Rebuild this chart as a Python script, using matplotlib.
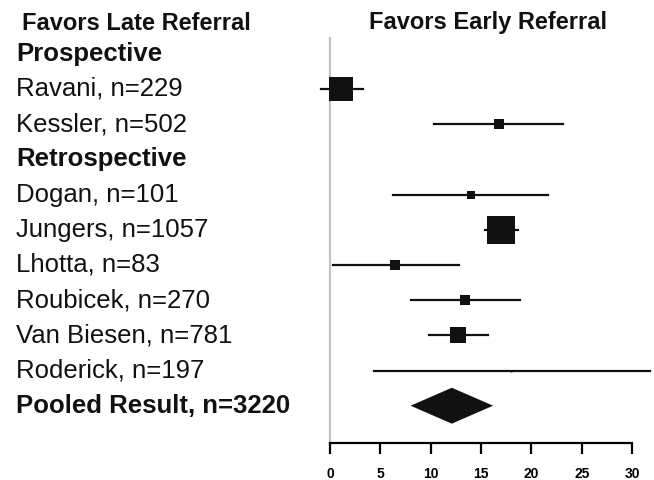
import numpy as np
import matplotlib
matplotlib.use("Agg")
import matplotlib.pyplot as plt
from matplotlib.transforms import blended_transform_factory

# row labels, top to bottom
labels = ["Prospective", "Ravani, n=229", "Kessler, n=502", "Retrospective",
          "Dogan, n=101", "Jungers, n=1057", "Lhotta, n=83", "Roubicek, n=270",
          "Van Biesen, n=781", "Roderick, n=197", "Pooled Result, n=3220"]
bold_rows = [0, 3, 10]

# studies (row index, estimate, lower CI, upper CI, weight %)
study_rows = [1, 2, 4, 5, 6, 7, 8, 9]
estimates = [1.1, 16.8, 14.0, 17.0, 6.5, 13.4, 12.7, 18.0]
ci_low = [-0.9, 10.3, 6.3, 15.4, 0.3, 8.0, 9.8, 4.4]
ci_high = [3.3, 23.1, 21.7, 18.7, 12.8, 18.9, 15.7, 31.8]
weights = [29.5, 4.5, 2.7, 40.6, 4.5, 4.5, 13.4, 0.2]

pooled_row = 10
pooled_est = 12.1
pooled_low = 8.0
pooled_high = 16.2

xticks = [0, 5, 10, 15, 20, 25, 30]

plt.rcParams["font.family"] = ["Liberation Sans", "DejaVu Sans"]

fig = plt.figure(figsize=(6.54, 4.80), dpi=100)
ax = fig.add_axes([300 / 654, 37 / 480, 354 / 654, 406 / 480])
ax.set_xlim(-2.98, 32.18)
ax.set_ylim(11.06, -0.477)

ax.axvline(0, color="#c4c4c4", lw=1.6, zorder=1)

for r, est, lo, hi, w in zip(study_rows, estimates, ci_low, ci_high, weights):
    ax.plot([lo, hi], [r, r], color="#111111", lw=1.6, clip_on=False, zorder=2)
    side = 4.3 * np.sqrt(w) * 0.72
    ax.plot(est, r, marker="s", ms=side, color="#111111", mec="#111111",
            mew=0, zorder=3, clip_on=False)

half_h = 0.51
ax.fill([pooled_low, pooled_est, pooled_high, pooled_est],
        [pooled_row, pooled_row - half_h, pooled_row, pooled_row + half_h],
        color="#111111", lw=0, zorder=3)

for s in ["top", "right", "left"]:
    ax.spines[s].set_visible(False)
ax.spines["bottom"].set_bounds(0, 30)
ax.spines["bottom"].set_linewidth(1.6)
ax.set_xticks(xticks)
ax.set_xticklabels([str(t) for t in xticks], fontsize=10, fontweight="bold")
ax.tick_params(axis="x", direction="out", length=8, width=1.6, pad=9)
ax.set_yticks([])

trans = blended_transform_factory(fig.transFigure, ax.transData)
for i, lab in enumerate(labels):
    ax.text(16 / 654, i, lab, transform=trans, ha="left", va="center",
            fontsize=18.5, fontweight="bold" if i in bold_rows else "normal",
            color="#111111")

fig.text(136 / 654, 1 - 23 / 480, "Favors Late Referral", ha="center",
         va="center", fontsize=17, fontweight="bold", color="#111111")
fig.text(488 / 654, 1 - 23 / 480, "Favors Early Referral", ha="center",
         va="center", fontsize=17, fontweight="bold", color="#111111")

fig.savefig("out.png", dpi=100)
